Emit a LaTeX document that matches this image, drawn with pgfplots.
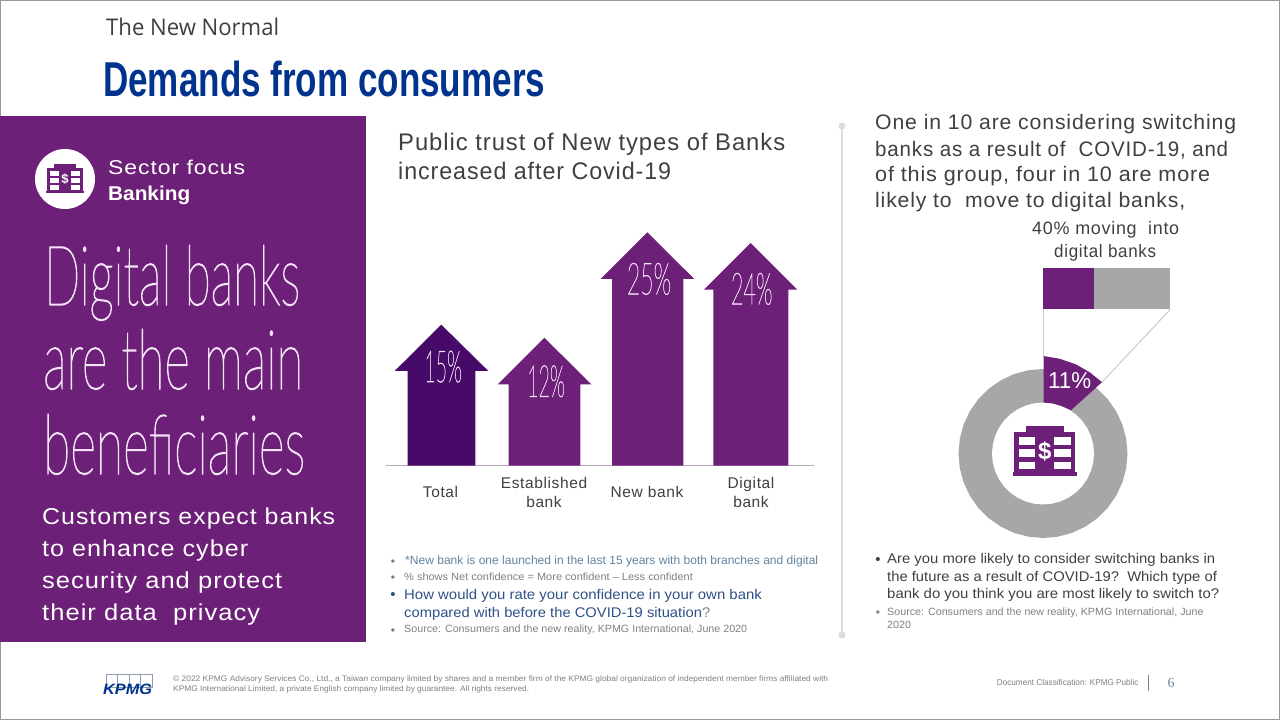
\documentclass[border=0pt]{standalone}
\usepackage{fontspec}
\usepackage{graphicx}
\usepackage{pgfplots}
\pgfplotsset{compat=1.18}
\usepackage{pgfplotstable}
\setmainfont{Liberation Sans}
\newfontfamily\track[LetterSpace=4]{Liberation Sans}
\newfontfamily\noto{Open Sans}
\newfontfamily\hair[UprightFont=* Thin,FakeBold=1.5]{Lato}
\newfontfamily\ser{Liberation Serif}

\definecolor{kpurple}{HTML}{6D2077}
\definecolor{kdark}{HTML}{470A68}
\definecolor{kblue}{HTML}{00338D}
\definecolor{ring}{HTML}{A7A6A8}
\definecolor{ink}{HTML}{404040}
\definecolor{note}{HTML}{808080}
\definecolor{steel}{HTML}{5F84A3}
\definecolor{navy}{HTML}{2F5088}
\definecolor{lilac}{HTML}{F3E3F6}
\definecolor{rule}{HTML}{DCDCDC}

\newcommand\fs[1]{\fontsize{#1}{#1}\selectfont}
% \txt{x}{baseline}{width}{colour}{font}{text}, all in reference pixels
\newcommand\txt[6]{\node[anchor=base west,inner sep=0pt,text=#4] at (#1,#2) {#5\resizebox{#3pt}{\height}{#6}};}
\newcommand\bankicon[5]{% x, y, scale, colour, $ size
  \begin{scope}[shift={(#1,#2)},scale=#3]
    \fill[#4] (-19,-25) rectangle (19,-19);
    \fill[#4] (-30.5,-19.3) rectangle (30.5,20.7);
    \fill[#4] (-32,20.7) rectangle (32,25);
    \foreach \a/\b in {-14.3/-6,-1.7/6.3,10.7/18.3}{
      \fill[white] (-25.3,\a) rectangle (-9.7,\b);
      \fill[white] (9.7,\a) rectangle (26,\b);
    }
    \node[text=white,inner sep=0pt,font=\bfseries\fs{#5}] at (0,0) {\$};
  \end{scope}}

% arrows, x in pixels, y = rise above the base line in pixels
\pgfplotstableread{
x y
407.7 0
407.7 94.6
394.7 94.6
441.3 140.9
488.3 94.6
475.3 94.6
475.3 0
}\arrowTotal
\pgfplotstableread{
x y
508.7 0
508.7 81.3
497.7 81.3
544.3 127.9
591.3 81.3
580.3 81.3
580.3 0
}\arrowEstablished
\pgfplotstableread{
x y
612 0
612 186.6
600.7 186.6
647.3 233.3
694.3 186.6
683.3 186.6
683.3 0
}\arrowNew
\pgfplotstableread{
x y
713.3 0
713.3 175.9
704 175.9
750.7 222.6
797.3 175.9
788.3 175.9
788.3 0
}\arrowDigital
% unit circle, 10 degree steps
\pgfplotstableread{
s c
0 1
.1736 .9848
.3420 .9397
.5 .8660
.6428 .7660
.7660 .6428
.8660 .5
.9397 .3420
.9848 .1736
1 0
.9848 -.1736
.9397 -.3420
.8660 -.5
.7660 -.6428
.6428 -.7660
.5 -.8660
.3420 -.9397
.1736 -.9848
0 -1
-.1736 -.9848
-.3420 -.9397
-.5 -.8660
-.6428 -.7660
-.7660 -.6428
-.8660 -.5
-.9397 -.3420
-.9848 -.1736
-1 0
-.9848 .1736
-.9397 .3420
-.8660 .5
-.7660 .6428
-.6428 .7660
-.5 .8660
-.3420 .9397
-.1736 .9848
}\unitcircle

\begin{document}
\begin{tikzpicture}
\useasboundingbox (0,0) rectangle (1280pt,720pt);
\fill[white] (0,0) rectangle (1280pt,720pt);
\fill[kpurple] (0,78pt) rectangle (366pt,604pt);

\begin{axis}[
  at={(385.5pt,254.4pt)},anchor=south west,
  scale only axis,width=428.5pt,height=240pt,
  xmin=385.5,xmax=814,ymin=0,ymax=240,
  axis x line=bottom,axis y line=none,
  axis line style={-,draw=rule!70!kpurple,line width=1pt},
  xtick={440.5,544,647,751},
  xticklabels={Total,{Established\\bank},New bank,{Digital\\bank}},
  xticklabel style={anchor=center,yshift=-26.5pt,align=center,text=ink,font=\track\fontsize{15.5}{19}\selectfont},
  major tick length=0pt,
  clip=false,
]
\addplot[fill=kdark,draw=none] table {\arrowTotal};
\addplot[fill=kpurple,draw=none] table {\arrowEstablished};
\addplot[fill=kpurple,draw=none] table {\arrowNew};
\addplot[fill=kpurple,draw=none] table {\arrowDigital};
\end{axis}

% origin of this axis is the centre of the ring
\begin{axis}[
  at={(953pt,176.5pt)},anchor=south west,
  scale only axis,width=225pt,height=280pt,
  xmin=-90,xmax=135,ymin=-90,ymax=190,
  hide axis,clip=false,
]
\addplot[fill=ring,draw=none] table[x expr=\thisrow{s}*84.5,y expr=\thisrow{c}*84.5] {\unitcircle};
\addplot[fill=white,draw=none] table[x expr=\thisrow{s}*51,y expr=\thisrow{c}*51] {\unitcircle};
\addplot[fill=kpurple,draw=none] coordinates {(0.5,97.5) (16.7,94.7) (32.5,89.3) (46.9,81.1) (59,71.3) (28,43.3) (19,47.3) (10,50) (0.5,51)};
\addplot[draw=ring!60,line width=1pt] coordinates {(0,144.2) (0,97.5)};
\addplot[draw=ring!60,line width=1pt] coordinates {(127.3,144.2) (59,71.3)};
% 40% of the bar is purple, 60% grey
\addplot[fill=kpurple,draw=none] coordinates {(0,144.2) (50.9,144.2) (50.9,185.8) (0,185.8)};
\addplot[fill=ring,draw=none] coordinates {(50.9,144.2) (127.3,144.2) (127.3,185.8) (50.9,185.8)};
\end{axis}

\begin{scope}[yshift=720pt,x=1pt,y=-1pt]
% slide edge
\draw[gray!80,line width=2pt] (0,0) -- (1280,0);
\draw[gray!80,line width=2pt] (0,0) -- (0,116);
\draw[gray!80,line width=2pt] (1280,0) -- (1280,720);
\draw[gray!80,line width=2pt] (0,642) -- (0,720) -- (1280,720);

\txt{106}{35.5}{173}{ink}{\noto\fs{23}}{The New Normal}
\txt{103}{97}{442}{kblue}{\bfseries\fs{49}}{Demands from consumers}

% purple panel
\fill[white] (65,179) circle (30);
\bankicon{65}{179}{0.58}{kpurple}{13}
\txt{108}{175}{137}{white}{\track\fs{20}}{Sector focus}
\txt{108}{200.5}{82}{white}{\bfseries\fs{20}}{Banking}
\txt{44}{305}{256}{lilac}{\hair\fs{83}}{Digital banks}
\txt{43}{389}{260}{lilac}{\hair\fs{83}}{are the main}
\txt{43}{474}{262}{lilac}{\hair\fs{83}}{beneficiaries}
\txt{42}{525}{293}{white}{\track\fs{23}}{Customers expect banks}
\txt{42}{557}{206}{white}{\track\fs{23}}{to enhance cyber}
\txt{42}{589}{240}{white}{\track\fs{23}}{security and protect}
\txt{42}{621}{218}{white}{\track\fs{23}}{their data\ \ privacy}

% arrow chart
\txt{398}{151}{387}{ink}{\track\fs{24}}{Public trust of New types of Banks}
\txt{398}{180}{273}{ink}{\track\fs{24}}{increased after Covid-19}
\txt{424.3}{382}{37.4}{lilac}{\hair\fs{44}}{15\%}
\txt{527}{396.7}{37.7}{lilac}{\hair\fs{44}}{12\%}
\txt{626.7}{294.3}{44.3}{lilac}{\hair\fs{44}}{25\%}
\txt{730.7}{304.3}{41.6}{lilac}{\hair\fs{44}}{24\%}
\node[text=ink!70,inner sep=0pt,font=\fs{12}] at (393,562.5) {•};
\node[text=ink!70,inner sep=0pt,font=\fs{12}] at (393,578.5) {•};
\node[text=navy,inner sep=0pt,font=\fs{15}] at (393,596) {•};
\node[text=ink!70,inner sep=0pt,font=\fs{12}] at (393,631.5) {•};
\txt{405}{565}{413}{steel}{\fs{12}}{*New bank is one launched in the last 15 years with both branches and digital}
\txt{404}{581}{288.7}{note}{\fs{10.5}}{\% shows Net confidence = More confident – Less confident}
\txt{404}{599.3}{357.7}{navy}{\fs{14}}{How would you rate your confidence in your own bank}
\txt{404}{617.3}{306}{navy}{\fs{14}}{compared with before the COVID-19 situation{\color{note}?}}
\txt{404}{633}{343}{note}{\fs{10.5}}{Source: Consumers and the new reality, KPMG International, June 2020}

% divider
\draw[rule,line width=1.5pt] (842,126) -- (842,635);
\fill[rule] (842,126) circle (3.5);
\fill[rule] (842,635) circle (3.5);

% right column
\txt{875}{130}{361}{ink}{\track\fs{21}}{One in 10 are considering switching}
\txt{875}{157}{353}{ink}{\track\fs{21}}{banks as a result of\ \ COVID-19, and}
\txt{875}{182}{335}{ink}{\track\fs{21}}{of this group, four in 10 are more}
\txt{875}{208}{310}{ink}{\track\fs{21}}{likely to\ \ move to digital banks,}
\txt{1032}{235}{147}{ink}{\track\fs{18}}{40\% moving\ \ into}
\txt{1054}{258}{102}{ink}{\track\fs{18}}{digital banks}
\txt{1048}{389}{43}{white}{\fs{23}}{11\%}
\bankicon{1044.7}{451}{1}{kpurple}{24}
\node[text=ink,inner sep=0pt,font=\fs{15}] at (878,561) {•};
\node[text=note,inner sep=0pt,font=\fs{12}] at (878,613.5) {•};
\txt{887}{564}{328}{ink}{\fs{14}}{Are you more likely to consider switching banks in}
\txt{887}{581.7}{329.7}{ink}{\fs{14}}{the future as a result of COVID-19?\ \ Which type of}
\txt{887}{599}{332}{ink}{\fs{14}}{bank do you think you are most likely to switch to?}
\txt{887}{615.7}{316.3}{note}{\fs{10.5}}{Source: Consumers and the new reality, KPMG International, June}
\txt{887}{628.3}{24}{note}{\fs{10.5}}{2020}

% footer
\foreach \x in {106,117.5,129,140.5}{\draw[gray!50!kblue!60,line width=0.8pt] (\x,674.5) rectangle (\x+11.5,687);}
\txt{103}{695}{49}{kblue}{\bfseries\itshape\fs{15}}{KPMG}
\txt{173}{682}{655}{note}{\fs{8}}{© 2022 KPMG Advisory Services Co., Ltd., a Taiwan company limited by shares and a member firm of the KPMG global organization of independent member firms affiliated with}
\txt{173}{692}{356}{note}{\fs{8}}{KPMG International Limited, a private English company limited by guarantee. All rights reserved.}
\txt{996.7}{686}{141.6}{note}{\fs{8.5}}{Document Classification: KPMG Public}
\draw[note,line width=0.8pt] (1148.3,675) -- (1148.3,690.7);
\node[anchor=base west,inner sep=0pt,text=navy!70,font=\ser\fs{14}] at (1167.5,688) {6};
\end{scope}
\end{tikzpicture}
\end{document}
